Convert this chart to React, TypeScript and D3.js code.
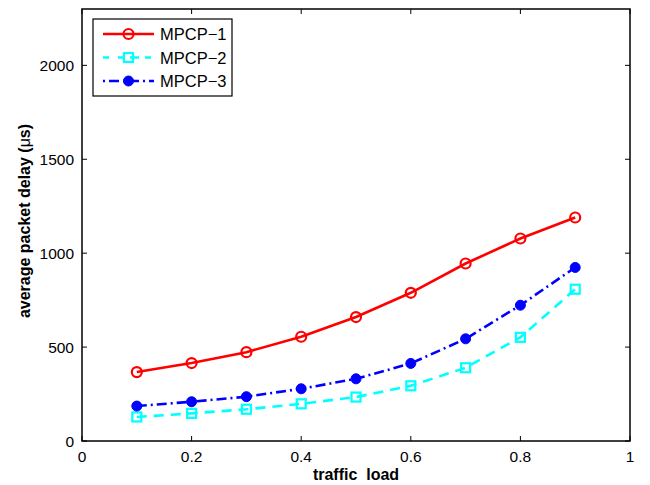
import React from "react";
import * as d3 from "d3";

const loads = [0.1, 0.2, 0.3, 0.4, 0.5, 0.6, 0.7, 0.8, 0.9];
const mpcp1 = [367, 415, 473, 555, 660, 789, 945, 1078, 1190];
const mpcp2 = [128, 147, 169, 198, 234, 294, 390, 552, 808];
const mpcp3 = [186, 209, 236, 278, 331, 413, 544, 723, 924];
const xTicks = [0, 0.2, 0.4, 0.6, 0.8, 1];
const yTicks = [0, 500, 1000, 1500, 2000];
const seriesNames = ["MPCP\u22121", "MPCP\u22122", "MPCP\u22123"];

const W = 650, H = 485;
const L = 82, R = 630, T = 9, B = 441;

export default function App() {
  const x = d3.scaleLinear().domain([0, 1]).range([L, R]);
  const y = d3.scaleLinear().domain([0, 2300]).range([B, T]);
  const line = d3.line<number>().x((_, i) => x(loads[i])).y((d) => y(d));
  const font = "'Liberation Sans', Arial, Helvetica, sans-serif";
  const series = [
    { name: seriesNames[0], data: mpcp1, color: "#ff0000", dash: "none", marker: "circle" },
    { name: seriesNames[1], data: mpcp2, color: "#00ffff", dash: "10,7", marker: "square" },
    { name: seriesNames[2], data: mpcp3, color: "#0000ff", dash: "10,4,2,4", marker: "dot" },
  ];
  const marker = (m: string, cx: number, cy: number, color: string, key: any) => {
    if (m === "circle")
      return <circle key={key} cx={cx} cy={cy} r={5} fill="none" stroke={color} strokeWidth={2.2} />;
    if (m === "square")
      return <rect key={key} x={cx - 4.5} y={cy - 4.5} width={9} height={9} fill="none" stroke={color} strokeWidth={2.2} />;
    return <circle key={key} cx={cx} cy={cy} r={5} fill={color} stroke={color} strokeWidth={1} />;
  };
  return (
    <svg width={W} height={H} style={{ position: "absolute", left: 0, top: 0 }} fontFamily={font}>
      <rect x={0} y={0} width={W} height={H} fill="#fff" />
      {xTicks.map((t) => (
        <g key={"xt" + t}>
          <line x1={x(t)} x2={x(t)} y1={B} y2={B - 5} stroke="#000" />
          <line x1={x(t)} x2={x(t)} y1={T} y2={T + 5} stroke="#000" />
          <text x={x(t)} y={462} textAnchor="middle" fontSize={15.5}>{String(t)}</text>
        </g>
      ))}
      {yTicks.map((t) => (
        <g key={"yt" + t}>
          <line x1={L} x2={L + 5} y1={y(t)} y2={y(t)} stroke="#000" />
          <line x1={R} x2={R - 5} y1={y(t)} y2={y(t)} stroke="#000" />
          <text x={74} y={y(t) + 5.5} textAnchor="end" fontSize={15.5}>{String(t)}</text>
        </g>
      ))}
      <rect x={L} y={T} width={R - L} height={B - T} fill="none" stroke="#000" strokeWidth={1.5} />
      {series.map((s, si) => (
        <g key={si}>
          <path d={line(s.data) || ""} fill="none" stroke={s.color} strokeWidth={2.6} strokeDasharray={s.dash} />
          {s.data.map((v, i) => marker(s.marker, x(loads[i]), y(v), s.color, i))}
        </g>
      ))}
      <rect x={93} y={19} width={139} height={77} fill="#fff" stroke="#000" strokeWidth={1.2} />
      {series.map((s, i) => {
        const ly = 34 + i * 23.5;
        return (
          <g key={"lg" + i}>
            <line x1={103} x2={154} y1={ly} y2={ly} stroke={s.color} strokeWidth={2.6} strokeDasharray={s.dash === "none" ? "none" : s.dash === "10,7" ? "6,9,6" : "2,4,10,4"} />
            {marker(s.marker, 128.5, ly, s.color, "m")}
            <text x={160} y={ly + 6} fontSize={16.5}>{s.name}</text>
          </g>
        );
      })}
      <text x={356} y={480} textAnchor="middle" fontSize={16} fontWeight="bold" style={{ whiteSpace: "pre" }}>{"traffic  load"}</text>
      <text transform={`translate(30,221) rotate(-90)`} textAnchor="middle" fontSize={16} fontWeight="bold">
        average packet delay (<tspan fontWeight="normal">{"\u03bc"}</tspan>s)
      </text>
    </svg>
  );
}
